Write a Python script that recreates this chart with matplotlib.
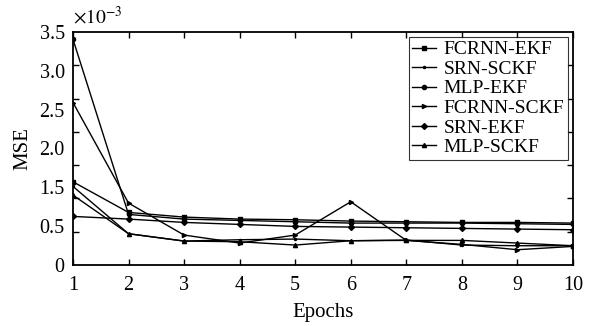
import numpy as np
import matplotlib
matplotlib.use('Agg')
import matplotlib.pyplot as plt

plt.rcParams['font.family'] = ['Liberation Serif', 'DejaVu Serif']
plt.rcParams['mathtext.fontset'] = 'stix'

# MSE values in units of 1e-3
epochs = np.arange(1, 11)
fcrnn_ekf = [1.25, 0.79, 0.72, 0.69, 0.68, 0.66, 0.65, 0.64, 0.64, 0.63]
srn_sckf = [1.18, 0.47, 0.36, 0.38, 0.39, 0.365, 0.375, 0.30, 0.29, 0.29]
mlp_ekf = [3.39, 0.76, 0.69, 0.67, 0.65, 0.63, 0.63, 0.63, 0.62, 0.61]
fcrnn_sckf = [2.44, 0.93, 0.45, 0.33, 0.45, 0.95, 0.37, 0.31, 0.23, 0.28]
srn_ekf = [0.73, 0.69, 0.64, 0.61, 0.58, 0.57, 0.56, 0.55, 0.54, 0.53]
mlp_sckf = [1.05, 0.47, 0.36, 0.35, 0.30, 0.365, 0.37, 0.37, 0.33, 0.29]

series = [
    ('FCRNN-EKF', fcrnn_ekf, 's'),
    ('SRN-SCKF', srn_sckf, '.'),
    ('MLP-EKF', mlp_ekf, 'o'),
    ('FCRNN-SCKF', fcrnn_sckf, '>'),
    ('SRN-EKF', srn_ekf, 'D'),
    ('MLP-SCKF', mlp_sckf, '^'),
]

# the printed y labels (1.0 is missing in the original)
ylabels = ['0', '0.5', '1.5', '2.0', '2.5', '3.0', '3.5']

fig = plt.figure(figsize=(5.91, 3.26), dpi=100)
ax = fig.add_axes([0.1235, 0.187, 0.846, 0.715])

for name, vals, mk in series:
    ax.plot(epochs, vals, color='black', linewidth=1.0, marker=mk,
            markersize=3, markerfacecolor='black', label=name)

ax.set_xlim(1, 10)
ax.set_ylim(0, 3.5)
ax.set_xticks(epochs)
ax.set_yticks(np.linspace(0, 3.5, len(ylabels)))
ax.set_yticklabels(ylabels)
ax.set_yticks(np.arange(0, 3.51, 0.5), minor=True)
ax.tick_params(axis='x', which='major', direction='in', top=True, length=4,
               labelsize=14.5, pad=8, width=1)
ax.tick_params(axis='y', which='major', length=0, labelsize=14.5, pad=6)
ax.tick_params(axis='y', which='minor', direction='in', right=True,
               length=4, width=1)
ax.tick_params(axis='x', which='minor', bottom=False, top=False)
for sp in ax.spines.values():
    sp.set_linewidth(1.3)

ax.set_xlabel('Epochs', fontsize=15, labelpad=6)
ax.set_ylabel('MSE', fontsize=15, labelpad=5)
ax.text(0.0, 1.02, r'$\times10^{-3}$', transform=ax.transAxes,
        fontsize=14, ha='left', va='bottom')

leg = ax.legend(loc='upper right', fontsize=14, handlelength=1.2,
                handletextpad=0.4, labelspacing=0.1, borderpad=0.2,
                borderaxespad=0.25, fancybox=False, frameon=True)
leg.get_frame().set_edgecolor('black')
leg.get_frame().set_linewidth(0.8)

fig.savefig('out.png', dpi=100)
